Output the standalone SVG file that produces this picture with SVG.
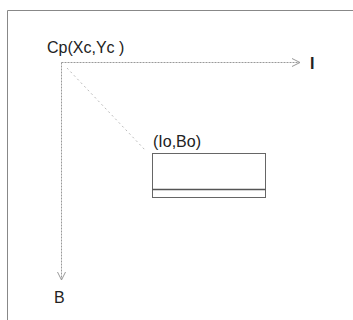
<svg xmlns="http://www.w3.org/2000/svg" width="353" height="320" viewBox="0 0 353 320">
<style>
.t{font-family:"Liberation Sans",Arial,sans-serif;font-size:16px;fill:#222}
.ax{stroke:#999;stroke-width:1;stroke-dasharray:2 1;fill:none}
.frame{stroke:#888;stroke-width:1;fill:none}
</style>
<defs>
<marker id="ah" markerWidth="10" markerHeight="10" refX="9" refY="5" orient="auto" markerUnits="userSpaceOnUse">
<path d="M1,1 L9,5 L1,9" fill="none" stroke="#999" stroke-width="1"/>
</marker>
</defs>
<rect width="353" height="320" fill="#fff"/>
<path class="frame" d="M353,10.5 H7.5 V320"/>
<g id="connectors">
<line class="ax" x1="61.5" y1="62.5" x2="300" y2="62.5" marker-end="url(#ah)"/>
<line class="ax" x1="61.5" y1="62.5" x2="61.5" y2="280" marker-end="url(#ah)"/>
<line x1="67" y1="68" x2="146" y2="151" stroke="#bbb" stroke-width="1" stroke-dasharray="2 3"/>
</g>
<g id="origin"><text class="t" x="47" y="53">Cp(Xc,Yc )</text></g>
<g id="axisI"><text class="t" x="310" y="69" font-weight="bold">I</text></g>
<g id="axisB"><text class="t" x="54" y="303">B</text></g>
<g id="box">
<text class="t" x="153" y="147">(Io,Bo)</text>
<rect x="152.5" y="153.5" width="113" height="44" fill="none" stroke="#666" stroke-width="1"/>
<line x1="152.5" y1="189.5" x2="265.5" y2="189.5" stroke="#555" stroke-width="1.5"/>
</g>
</svg>
